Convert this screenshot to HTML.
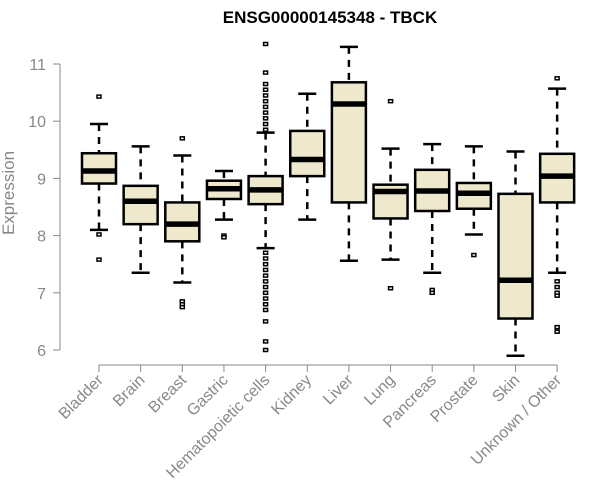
<!DOCTYPE html>
<html><head><meta charset="utf-8"><style>body{margin:0;background:#fff}svg{display:block;font-family:"Liberation Sans",Arial,sans-serif}</style></head>
<body>
<svg id="chart" width="600" height="500">
<text x="330" y="23" text-anchor="middle" font-size="17" font-weight="bold">ENSG00000145348 - TBCK</text>
<text transform="translate(14,193) rotate(-90)" text-anchor="middle" font-size="17" fill="#888">Expression</text>
<g id="yaxis"></g>
<g id="xaxis"></g>
<g id="boxes"></g>
</svg>
<script>
const categories=["Bladder","Brain","Breast","Gastric","Hematopoietic cells","Kidney","Liver","Lung","Pancreas","Prostate","Skin","Unknown / Other"];
const whiskerLow=[8.1,7.35,7.18,8.28,7.78,8.28,7.56,7.58,7.35,8.02,5.9,7.35];
const q1=[8.91,8.2,7.9,8.64,8.55,9.04,8.58,8.3,8.43,8.47,6.55,8.58];
const medians=[9.13,8.6,8.2,8.82,8.8,9.33,10.3,8.77,8.78,8.74,7.22,9.04];
const q3=[9.44,8.87,8.58,8.96,9.04,9.83,10.68,8.89,9.15,8.92,8.73,9.43];
const whiskerHigh=[9.95,9.56,9.4,9.13,9.8,10.48,11.3,9.52,9.6,9.56,9.47,10.57];
const outliers=[[10.43,8.02,7.58],[],[9.7,6.85,6.8,6.75],[8.0,7.97],
[11.35,10.85,10.65,10.55,10.45,10.35,10.25,10.15,10.05,9.95,9.85,7.7,7.6,7.5,7.4,7.3,7.2,7.1,7.0,6.9,6.8,6.7,6.5,6.15,6.0],
[],[],[10.35,7.08],[7.05,7.0],[7.66],[],[10.75,7.2,7.1,7.0,6.95,6.4,6.32]];
const yTicks=[6,7,8,9,10,11];
const NS="http://www.w3.org/2000/svg";
const y=v=>64+(11-v)*57.2;
const x=i=>99+i*41.65;
function mk(tag,attrs,parent){const e=document.createElementNS(NS,tag);for(const k in attrs)e.setAttribute(k,attrs[k]);parent.appendChild(e);return e;}
const ya=document.getElementById('yaxis'),xa=document.getElementById('xaxis'),bx=document.getElementById('boxes');
let l=mk('line',{x1:60,x2:60,y1:y(11),y2:y(6),stroke:'#888'},ya);


yTicks.forEach(t=>{
 let tk=mk('line',{x1:53,x2:60,y1:y(t),y2:y(t),stroke:'#888'},ya);
 
 
 let tx=mk('text',{x:46,y:y(t)+6,'text-anchor':'end','font-size':16,fill:'#888'},ya);
 tx.textContent=t;
 
 
});
let xl=mk('line',{x1:x(0),x2:x(categories.length-1),y1:365,y2:365,stroke:'#888'},xa);


categories.forEach((c,i)=>{
 const cx=x(i);
 let tk=mk('line',{x1:cx,x2:cx,y1:365,y2:372,stroke:'#888'},xa);
 
 
 let tx=mk('text',{transform:`translate(${cx+5},${381}) rotate(-45)`,'text-anchor':'end','font-size':16,fill:'#888'},xa);
 tx.textContent=c;
 
 
 const g=mk('g',{},bx);
 
 
 mk('line',{x1:cx,x2:cx,y1:y(whiskerHigh[i]),y2:y(q3[i]),stroke:'#000','stroke-width':2.5,'stroke-dasharray':'7,6'},g);
 mk('line',{x1:cx,x2:cx,y1:y(q1[i]),y2:y(whiskerLow[i]),stroke:'#000','stroke-width':2.5,'stroke-dasharray':'7,6'},g);
 mk('line',{x1:cx-9,x2:cx+9,y1:y(whiskerHigh[i]),y2:y(whiskerHigh[i]),stroke:'#000','stroke-width':2.5},g);
 mk('line',{x1:cx-9,x2:cx+9,y1:y(whiskerLow[i]),y2:y(whiskerLow[i]),stroke:'#000','stroke-width':2.5},g);
 mk('rect',{x:cx-17,y:y(q3[i]),width:34,height:y(q1[i])-y(q3[i]),fill:'#EEE8CD',stroke:'#000','stroke-width':2.5},g);
 mk('line',{x1:cx-17,x2:cx+17,y1:y(medians[i]),y2:y(medians[i]),stroke:'#000','stroke-width':5.5},g);
 outliers[i].forEach(o=>{mk('rect',{x:cx-2,y:y(o)-1.5,width:4,height:3,fill:'#fff',stroke:'#000','stroke-width':1.5},g);});
});
</script>
</body></html>
